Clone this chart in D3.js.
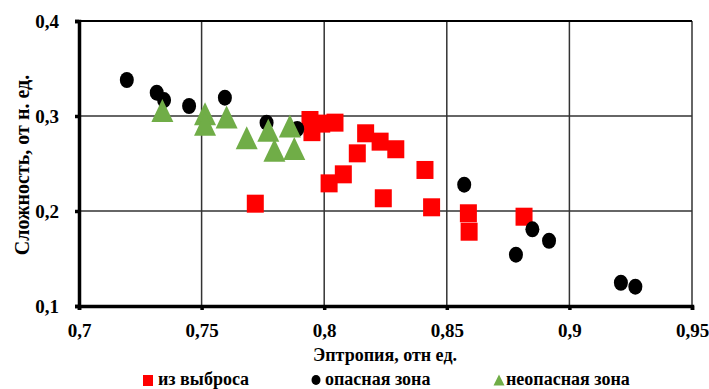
<!DOCTYPE html>
<html>
<head>
<meta charset="utf-8">
<script src="https://cdn.jsdelivr.net/npm/d3@7"></script>
<style>
  html, body { margin: 0; padding: 0; background: #fff; }
  svg { display: block; }
  svg text { font-family: "Liberation Serif", "DejaVu Serif", "Times New Roman", serif !important; font-weight: bold; fill: #000; }
</style>
</head>
<body>
<svg id="chart" width="709" height="389"></svg>
<script>
// Series: entropy (x) and complexity (y)
const ejectX = [0.7942, 0.7950, 0.7990, 0.8044, 0.8169, 0.8228, 0.8292, 0.8135, 0.8078, 0.8020, 0.8241, 0.8411, 0.8438, 0.8588, 0.8591, 0.8815, 0.7719];
const ejectY = [0.2958, 0.2830, 0.2920, 0.2930, 0.2818, 0.2730, 0.2650, 0.2607, 0.2386, 0.2291, 0.2134, 0.2432, 0.2039, 0.1976, 0.1782, 0.1940, 0.2077];

const dangerX = [0.7195, 0.7317, 0.7347, 0.7449, 0.7595, 0.7765, 0.7890, 0.8571, 0.8849, 0.8917, 0.8782, 0.9210, 0.9269];
const dangerY = [0.3379, 0.3246, 0.3168, 0.3105, 0.3193, 0.2930, 0.2863, 0.2277, 0.1807, 0.1687, 0.1540, 0.1245, 0.1203];

const safeX = [0.7340, 0.7514, 0.7514, 0.7602, 0.7684, 0.7772, 0.7860, 0.7797, 0.7878];
const safeY = [0.3035, 0.3000, 0.2888, 0.2965, 0.2747, 0.2825, 0.2870, 0.2614, 0.2635];

const xTicks = [0.7, 0.75, 0.8, 0.85, 0.9, 0.95];
const yTicks = [0.1, 0.2, 0.3, 0.4];

const seriesNames = ["из выброса", "опасная зона", "неопасная зона"];
const xTitle = "Эптропия, отн ед.";
const yTitle = "Сложность, от н. ед.";

const svg = d3.select("#chart");
const m = { left: 79, right: 692, top: 21, bottom: 306 };

const x = d3.scaleLinear().domain([0.7, 0.95]).range([m.left, m.right]);
const y = d3.scaleLinear().domain([0.1, 0.4]).range([m.bottom, m.top]);
const fmt = d => String(+d.toFixed(2)).replace(".", ",");

// Grid
const grid = svg.append("g");
grid.selectAll("line.v").data(xTicks.slice(1)).join("line")
  .attr("x1", d => x(d)).attr("x2", d => x(d))
  .attr("y1", m.top).attr("y2", m.bottom)
  .attr("stroke", "#333").attr("stroke-width", 1.5);
grid.selectAll("line.h").data(yTicks.slice(1)).join("line")
  .attr("x1", m.left).attr("x2", m.right)
  .attr("y1", d => y(d)).attr("y2", d => y(d))
  .attr("stroke", d => d === 0.4 ? "#000" : "#333")
  .attr("stroke-width", d => d === 0.4 ? 2.2 : 1.5);

// Axes
const xAxis = svg.append("g").attr("transform", `translate(0,${m.bottom})`)
  .call(d3.axisBottom(x).tickValues(xTicks).tickFormat(fmt).tickSize(4).tickPadding(14));
const yAxis = svg.append("g").attr("transform", `translate(${m.left},0)`)
  .call(d3.axisLeft(y).tickValues(yTicks).tickFormat(fmt).tickSize(4).tickPadding(16));
[xAxis, yAxis].forEach(a => {
  a.attr("font-family", null).attr("font-size", null);
  a.select(".domain").attr("stroke", "#000").attr("stroke-width", 3.5);
  a.selectAll(".tick line").attr("stroke", "#000").attr("stroke-width", 3.5);
  a.selectAll(".tick text").style("font-size", "19px").attr("fill", "#000");
});
xAxis.selectAll(".tick text").attr("dy", "0.71em");
yAxis.selectAll(".tick text").attr("dy", "0.32em");

// Series marks
const plot = svg.append("g");
const sqW = 17, sqH = 18;
plot.selectAll("rect.eject").data(ejectX.map((v, i) => [v, ejectY[i]])).join("rect")
  .attr("x", d => x(d[0]) - sqW / 2).attr("y", d => y(d[1]) - sqH / 2)
  .attr("width", sqW).attr("height", sqH).attr("fill", "#ff0000");

plot.selectAll("ellipse.danger").data(dangerX.map((v, i) => [v, dangerY[i]])).join("ellipse")
  .attr("cx", d => x(d[0])).attr("cy", d => y(d[1]))
  .attr("rx", 7).attr("ry", 8).attr("fill", "#000");

const tri = (cx, cy, w, h) => `M${cx},${cy - h * 0.6}L${cx + w / 2},${cy + h * 0.4}L${cx - w / 2},${cy + h * 0.4}Z`;
plot.selectAll("path.safe").data(safeX.map((v, i) => [v, safeY[i]])).join("path")
  .attr("d", d => tri(x(d[0]), y(d[1]), 22, 23)).attr("fill", "#70ad47");

// Axis titles
svg.append("text").attr("x", 385).attr("y", 361).attr("text-anchor", "middle")
  .style("font-size", "18px").text(xTitle);
svg.append("text").attr("transform", "translate(29,165) rotate(-90)").attr("text-anchor", "middle")
  .style("font-size", "20px").text(yTitle);

// Legend
const lg = svg.append("g");
const ly = 380;
lg.append("rect").attr("x", 143).attr("y", ly - 5).attr("width", 10).attr("height", 11).attr("fill", "#ff0000");
lg.append("text").attr("x", 158).attr("y", ly + 5).style("font-size", "18px").text(seriesNames[0]);
lg.append("ellipse").attr("cx", 316).attr("cy", ly).attr("rx", 4.5).attr("ry", 5).attr("fill", "#000");
lg.append("text").attr("x", 325).attr("y", ly + 5).style("font-size", "18px").text(seriesNames[1]);
lg.append("path").attr("d", tri(499, ly + 1, 11, 11)).attr("fill", "#70ad47");
lg.append("text").attr("x", 506).attr("y", ly + 5).style("font-size", "18px").text(seriesNames[2]);
</script>
</body>
</html>
